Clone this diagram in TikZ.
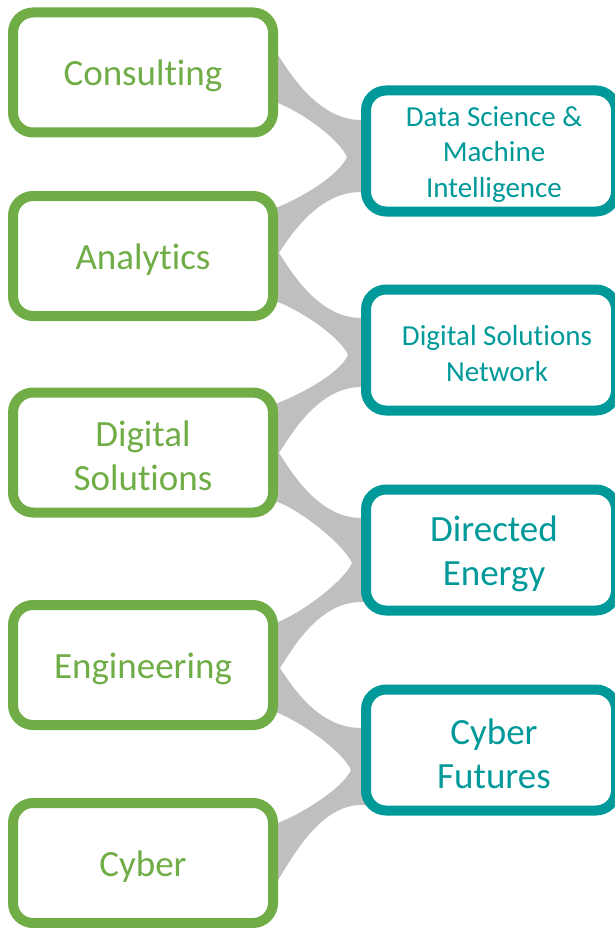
\documentclass[tikz,border=0pt]{standalone}
\usepackage{fontspec}
\setmainfont{Carlito}[Ligatures=NoCommon, RawFeature=-liga, RawFeature=-clig]
\usetikzlibrary{calc,backgrounds}

\definecolor{leafgreen}{HTML}{70AD47}
\definecolor{tealbox}{HTML}{009999}
\definecolor{ribbon}{HTML}{BFBFBF}

\newcommand{\labelfontL}{\fontsize{37}{44}\selectfont}
\newcommand{\labelfontS}{\fontsize{29}{35.5}\selectfont}

% ribbon from an upper left box down to a right box
% #1 left upper point, #2 left lower point, #3 right upper point, #4 cusp at the right box
\newcommand{\ribbondown}[4]{%
  \fill[ribbon] ($(#1)+(-10,0)$) -- (#1) .. controls +(13,20) and +(-42,0) .. (#3)
    -- ($(#3)+(10,0)$) -- ($(#4)+(30,0)$) -- (#4)
    .. controls +(-8,-18) and +(25,10) .. (#2) -- ($(#2)+(-10,0)$) -- cycle;}
% ribbon from a lower left box up to a right box
% #1 left upper point, #2 left lower point, #3 cusp at the right box, #4 right lower point
\newcommand{\ribbonup}[4]{%
  \fill[ribbon] ($(#1)+(-10,0)$) -- (#1) .. controls +(25,-10) and +(-8,18) .. (#3)
    -- ($(#3)+(30,0)$) -- ($(#4)+(10,0)$) -- (#4)
    .. controls +(-42,0) and +(13,-20) .. (#2) -- ($(#2)+(-10,0)$) -- cycle;}

\begin{document}
\begin{tikzpicture}[x=1pt,y=-1pt,
  leftbox/.style={draw=leafgreen, line width=10pt, rounded corners=20pt, fill=white,
    minimum width=260pt, minimum height=120pt, inner sep=0pt,
    label={[leftlabel]center:#1}},
  leftlabel/.style={text=leafgreen, align=center, font=\labelfontL, yshift=-3.5pt},
  rightbox/.style={draw=tealbox, line width=10pt, rounded corners=20pt, fill=white,
    minimum width=250pt, minimum height=121pt, inner sep=0pt},
  rightlabel/.style={text=tealbox, align=center, font=\labelfontL, yshift=-3.5pt, xshift=3pt},
  rightlabelS/.style={rightlabel, font=\labelfontS}]

\useasboundingbox (0,0) rectangle (615,928);
\clip (0,0) rectangle (615,928);

% service lines
\node[leftbox={Consulting}]         (cons)   at (143,72.5)  {};
\node[leftbox={Analytics}]          (anal)   at (143,256)   {};
\node[leftbox={Digital\\Solutions}] (digsol) at (143,452.5) {};
\node[leftbox={Engineering}]        (eng)    at (143,665)   {};
\node[leftbox={Cyber}]              (cyb)    at (143,863)   {};

% focus areas
\node[rightbox, label={[rightlabelS]center:Data Science \&\\Machine\\Intelligence}] (dsmi) at (491,151) {};
\node[rightbox, label={[rightlabelS, xshift=3pt]center:Digital Solutions\\Network}] (dsn) at (491,350) {};
\node[rightbox, label={[rightlabel]center:Directed\\Energy}] (de) at (491,550) {};
\node[rightbox, label={[rightlabel]center:Cyber\\Futures}] (cf) at (491,750) {};

% ribbon end points
\coordinate (c-t) at ($(cons.east)+(0,-17.5)$);
\coordinate (c-b) at ($(cons.east)+(0,30.5)$);
\coordinate (a-t) at ($(anal.east)+(0,-49)$);
\coordinate (a-x) at ($(anal.east)+(1,-3)$);
\coordinate (a-b) at ($(anal.east)+(0,46)$);
\coordinate (s-t) at ($(digsol.east)+(0,-49.5)$);
\coordinate (s-x) at ($(digsol.east)+(1,0.5)$);
\coordinate (s-b) at ($(digsol.east)+(0,49.5)$);
\coordinate (g-t) at ($(eng.east)+(0,-43)$);
\coordinate (g-x) at ($(eng.east)+(2,3)$);
\coordinate (g-b) at ($(eng.east)+(0,48)$);
\coordinate (y-t) at ($(cyb.east)+(0,-40)$);
\coordinate (y-b) at ($(cyb.east)+(0,17)$);

\coordinate (ds-t) at ($(dsmi.west)+(0,-31)$);
\coordinate (ds-x) at ($(dsmi.west)+(-14,6)$);
\coordinate (ds-b) at ($(dsmi.west)+(0,41)$);
\coordinate (n-t) at ($(dsn.west)+(0,-32)$);
\coordinate (n-x) at ($(dsn.west)+(-13,5)$);
\coordinate (n-b) at ($(dsn.west)+(0,37)$);
\coordinate (e-t) at ($(de.west)+(0,-32)$);
\coordinate (e-x) at ($(de.west)+(-9,13)$);
\coordinate (e-b) at ($(de.west)+(0,52)$);
\coordinate (f-t) at ($(cf.west)+(0,-22)$);
\coordinate (f-x) at ($(cf.west)+(-10,20)$);
\coordinate (f-b) at ($(cf.west)+(0,55)$);

\begin{scope}[on background layer]
  \ribbondown{c-t}{c-b}{ds-t}{ds-x}
  \ribbonup{a-t}{a-x}{ds-x}{ds-b}
  \ribbondown{a-x}{a-b}{n-t}{n-x}
  \ribbonup{s-t}{s-x}{n-x}{n-b}
  \ribbondown{s-x}{s-b}{e-t}{e-x}
  \ribbonup{g-t}{g-x}{e-x}{e-b}
  \ribbondown{g-x}{g-b}{f-t}{f-x}
  \ribbonup{y-t}{y-b}{f-x}{f-b}
\end{scope}
\end{tikzpicture}
\end{document}
